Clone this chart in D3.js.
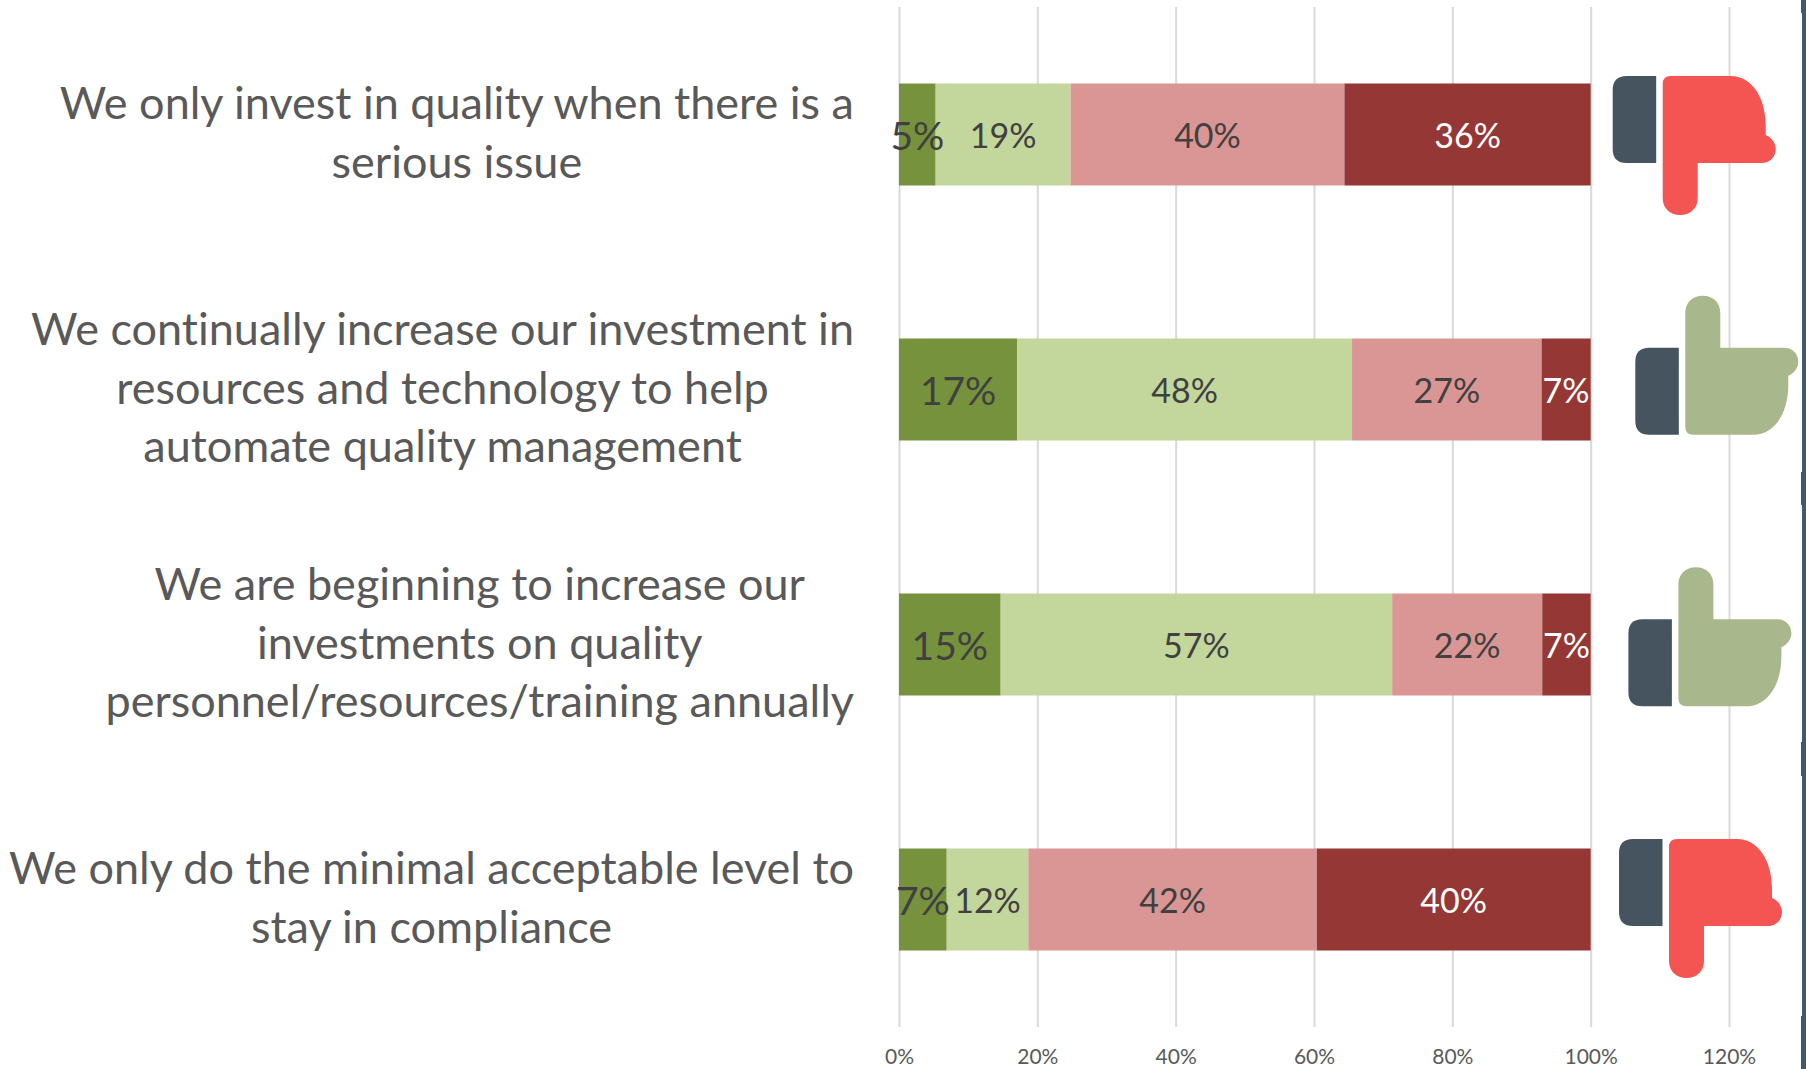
<!DOCTYPE html>
<html>
<head>
<meta charset="utf-8">
<script src="https://cdn.jsdelivr.net/npm/d3@7"></script>
<style>
  html, body { margin: 0; padding: 0; background: #fff; }
  svg { display: block; }
  text { font-family: Lato, "Open Sans", sans-serif; font-variant-ligatures: none; }
</style>
</head>
<body>
<div id="chart"></div>
<script>
const categories = ['q1', 'q2', 'q3', 'q4']
const categoryLines = [
  ['We only invest in quality when there is a', 'serious issue'],
  ['We continually increase our investment in', 'resources and technology to help', 'automate quality management'],
  ['We are beginning to increase our', 'investments on quality', 'personnel/resources/training annually'],
  ['We only do the minimal acceptable level to', 'stay in compliance']
]
const seriesNames = ['s1', 's2', 's3', 's4']
const s1 = [5.3, 17.1, 14.7, 6.9]
const s2 = [19.5, 48.4, 56.6, 11.8]
const s3 = [39.6, 27.4, 21.7, 41.7]
const s4 = [35.6, 7.1, 7.0, 39.6]
const seriesColors = ['#76923c', '#c3d69b', '#d99694', '#953735']
const labelColors = ['#404040', '#404040', '#404040', '#ffffff']
const labelSizes = [39, 34, 34, 34]
const xTicks = [0, 20, 40, 60, 80, 100, 120]
const verdicts = ['down', 'up', 'up', 'down']
const iconLeft = [1612.7, 1635.3, 1628.4, 1619]
const iconPalmTop = [76, 347.7, 619.3, 839]
const edgeNotches = [[0, 13], [472, 505], [742, 776], [1016, 1069]]

const width = 1806
const height = 1069
const margin = { top: 7, right: 77, bottom: 42, left: 899 }
const LABEL_RIGHT = 854

const svg = d3.select('#chart').append('svg')
  .attr('width', width)
  .attr('height', height)

const xScale = d3.scaleLinear()
  .domain([0, 120])
  .range([margin.left, width - margin.right])
const yScale = d3.scaleBand()
  .domain(categories)
  .range([margin.top, height - margin.bottom])
  .paddingInner(0.6)
  .paddingOuter(0.3)

// gridlines + tick labels
const xAxis = svg.append('g')
  .attr('transform', `translate(0, ${height - margin.bottom})`)
  .call(d3.axisBottom(xScale)
    .tickValues(xTicks)
    .tickSizeInner(0)
    .tickSizeOuter(0)
    .tickPadding(22)
    .tickFormat(d => d + '%'))
xAxis.select('.domain').remove()
xAxis.selectAll('.tick line')
  .attr('y2', -(height - margin.top - margin.bottom))
  .attr('stroke', '#d9d9d9')
  .attr('stroke-width', 2)
xAxis.selectAll('.tick text')
  .attr('font-size', 21)
  .attr('fill', '#595959')

// stacked bars
const rows = categories.map((c, i) => ({ key: c, s1: s1[i], s2: s2[i], s3: s3[i], s4: s4[i] }))
const stacked = d3.stack().keys(seriesNames)(rows)

const groups = svg.append('g').selectAll('g')
  .data(stacked)
  .join('g')
  .attr('fill', (d, i) => seriesColors[i])

groups.selectAll('rect')
  .data(d => d)
  .join('rect')
  .attr('x', d => xScale(d[0]))
  .attr('y', d => yScale(d.data.key))
  .attr('width', d => xScale(d[1]) - xScale(d[0]))
  .attr('height', yScale.bandwidth())

// labels go on top of every bar, the 5% one spills over its neighbour
svg.append('g').selectAll('g')
  .data(stacked)
  .join('g')
  .selectAll('text')
  .data((d, i) => d.map(p => ({ p, i })))
  .join('text')
  .attr('x', d => xScale((d.p[0] + d.p[1]) / 2))
  .attr('y', d => yScale(d.p.data.key) + yScale.bandwidth() / 2 + 2)
  .attr('dy', '0.35em')
  .attr('text-anchor', 'middle')
  .attr('font-size', d => labelSizes[d.i])
  .attr('fill', d => labelColors[d.i])
  .text(d => Math.floor(d.p[1] - d.p[0] + 0.49) + '%')

// category labels, lines centred on the block, block flush right
const catLabels = svg.append('g').selectAll('text')
  .data(categories)
  .join('text')
  .attr('font-size', 45)
  .attr('fill', '#595959')
  .attr('text-anchor', 'middle')
  .attr('y', c => yScale(c) + yScale.bandwidth() / 2 - 1)

catLabels.each(function (c, i) {
  const sel = d3.select(this)
  const lines = categoryLines[i]
  const tspans = sel.selectAll('tspan')
    .data(lines)
    .join('tspan')
    .attr('dy', (d, k) => k === 0 ? ((1 - lines.length) / 2 * 58.6 + 15) : 58.6)
    .text(d => d)
  const longest = d3.max(tspans.nodes(), n => n.getComputedTextLength())
  tspans.attr('x', LABEL_RIGHT - longest / 2)
})

// thumbs, palm top at y 0 (flipped for thumbs up)
const cuffPath = 'M43.5,0 H14 Q0,0 0,14 V73 Q0,87 14,87 H43.5 Z'
const handPath = 'M50,8 Q50,0 58,0 H118 C138,0 153,20 153,50 V59 C160,62 163,68 163,73 C163,81 157,87 149,87 H85 V122 C85,132 78,139 67.5,139 C57,139 50,132 50,122 Z'

const icons = svg.append('g').selectAll('g')
  .data(verdicts)
  .join('g')
  .attr('transform', (d, i) => d === 'down'
    ? `translate(${iconLeft[i]}, ${iconPalmTop[i]})`
    : `translate(${iconLeft[i]}, ${iconPalmTop[i] + 87}) scale(1, -1)`)
icons.append('path').attr('d', cuffPath).attr('fill', '#46545f')
icons.append('path').attr('d', handPath).attr('fill', d => d === 'down' ? '#f45552' : '#a9b88c')

// dark edge on the right of the slide
svg.append('rect')
  .attr('x', width - 4)
  .attr('y', 0)
  .attr('width', 4)
  .attr('height', height)
  .attr('fill', '#3b5a73')
svg.append('g').selectAll('rect')
  .data(edgeNotches)
  .join('rect')
  .attr('x', width - 5)
  .attr('y', d => d[0])
  .attr('width', 1)
  .attr('height', d => d[1] - d[0])
  .attr('fill', '#3b5a73')
</script>
</body>
</html>
